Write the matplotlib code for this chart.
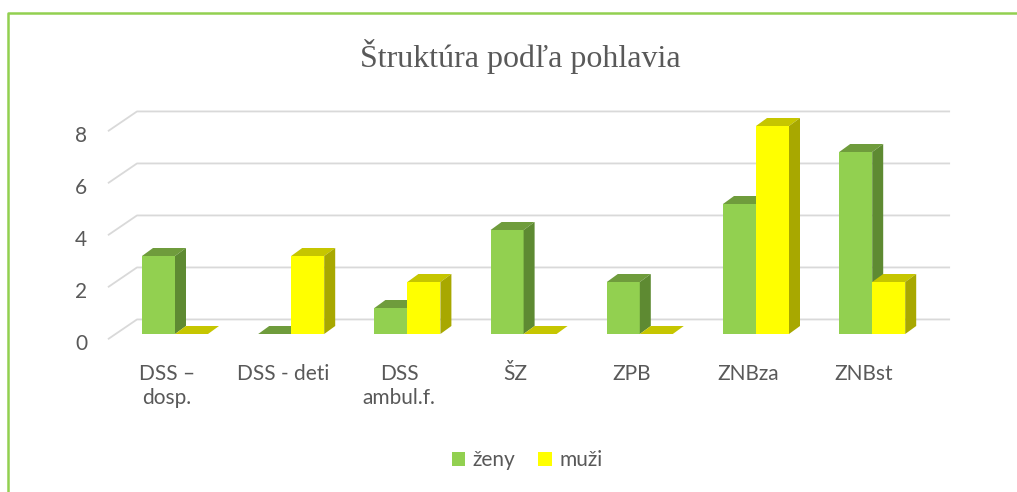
import matplotlib
matplotlib.use("Agg")
import matplotlib.pyplot as plt
from matplotlib.patches import Polygon, Patch
from matplotlib.lines import Line2D

plt.rcParams['font.family'] = ['Lato', 'DejaVu Sans']

categories = ["DSS –\ndosp.", "DSS - deti", "DSS\nambul.f.", "ŠZ", "ZPB", "ZNBza", "ZNBst"]
zeny = [3, 0, 1, 4, 2, 5, 7]
muzi = [0, 3, 2, 0, 0, 8, 2]
y_ticks = [0, 2, 4, 6, 8]
title = "Štruktúra podľa pohlavia"
series_names = ["ženy", "muži"]

TEXT = "#595959"
GRID = "#D9D9D9"
BORDER = "#92D050"
# front, top, side
GREEN = ("#92D050", "#6F9C3C", "#5E8A32")
YELLOW = ("#FFFF00", "#C6C600", "#A8A800")

W, H = 1017, 492
fig = plt.figure(figsize=(W / 100, H / 100), dpi=100)
ax = fig.add_axes([0, 0, 1, 1])
# one x unit = one category (116.2 px), one y unit = one value (26 px)
ax.set_xlim(-175 / 116.2, (W - 175) / 116.2)
ax.set_ylim((334 - H) / 26, 334 / 26)
ax.axis("off")

bw = 33 / 116.2          # bar width
ddx, ddy = 11 / 116.2, 8 / 26   # bar depth offset
fx0, bx0, bx1 = -0.577, -0.327, 6.67   # floor front-left, back-left, back-right
front_off, back_off = -0.2, 0.56

# back wall gridlines and left-side diagonals
for g in y_ticks:
    ax.plot([fx0, bx0, bx1], [g + front_off, g + back_off, g + back_off],
            color=GRID, lw=1.3, zorder=1, solid_capstyle="butt")
    ax.text(-0.757, g + front_off - 0.18, str(g), ha="right", va="center",
            fontsize=15, color=TEXT)

xs = list(range(len(categories)))
z = 3
for i in xs:
    for s, (vals, cols) in enumerate([(zeny, GREEN), (muzi, YELLOW)]):
        v = vals[i]
        x0 = i - bw if s == 0 else i
        x1 = x0 + bw
        ax.bar([x0], [v], width=bw, align="edge", color=cols[0],
               linewidth=0, zorder=z)
        top = Polygon([(x0, v), (x1, v), (x1 + ddx, v + ddy), (x0 + ddx, v + ddy)],
                      closed=True, facecolor=cols[1], edgecolor="none", zorder=z + 1)
        ax.add_patch(top)
        if v > 0:
            side = Polygon([(x1, 0), (x1 + ddx, ddy), (x1 + ddx, v + ddy), (x1, v)],
                           closed=True, facecolor=cols[2], edgecolor="none", zorder=z + 1)
            ax.add_patch(side)
        z += 3

# category labels
for i, lab in zip(xs, categories):
    ax.text(i - 0.07, -1.15, lab, ha="center", va="top", fontsize=15,
            color=TEXT, linespacing=1.25, multialignment="center")

fig.text(520 / W, 1 - 56 / H, title, ha="center", va="center",
         fontsize=23, color=TEXT, family="Liberation Serif")

handles = [Patch(facecolor=GREEN[0]), Patch(facecolor=YELLOW[0])]
fig.legend(handles, series_names, loc="center", bbox_to_anchor=(527 / W, 1 - 460 / H),
           ncol=2, frameon=False, fontsize=15, labelcolor=TEXT,
           handlelength=0.65, handleheight=0.65, handletextpad=0.35, columnspacing=1.1)

# chart border (top and left only visible)
fig.add_artist(Line2D([8 / W, 8 / W, 1], [0, 1 - 13 / H, 1 - 13 / H],
                      color=BORDER, lw=1.8, transform=fig.transFigure))

fig.savefig("out.png", dpi=100)
